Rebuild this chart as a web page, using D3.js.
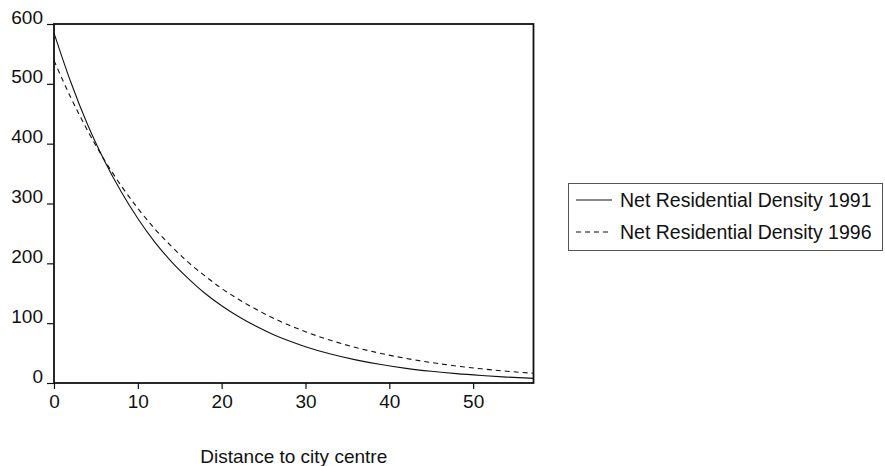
<!DOCTYPE html>
<html>
<head>
<meta charset="utf-8">
<script src="https://cdn.jsdelivr.net/npm/d3@7"></script>
<style>
  html, body { margin: 0; padding: 0; background: #fff; }
  svg { display: block; }
  text { font-family: "Liberation Sans", Arial, Helvetica, sans-serif; fill: #111; }
</style>
</head>
<body>
<svg id="chart" width="885" height="466"></svg>
<script>
// ---- Data ----
const distance = [0, 2, 4, 6, 8, 10, 12, 14, 16, 18, 20, 22, 24, 26, 28, 30, 33, 36, 39, 42, 45, 48, 51, 54, 57.2];
const density1991 = [585, 503, 432, 372, 320, 275, 236, 203, 175, 150, 129, 111, 95.5, 82, 70.6, 60.7, 48.4, 38.6, 30.8, 24.5, 19.6, 15.6, 12.5, 9.9, 7.8];
const density1996 = [539, 477, 422, 373, 330, 292, 258, 228.5, 202, 179, 158, 140, 124, 109.5, 96.9, 85.7, 71.3, 59.3, 49.4, 41.1, 34.2, 28.4, 23.7, 19.7, 16.2];
const seriesNames = ["Net Residential Density 1991", "Net Residential Density 1996"];
const xTicks = [0, 10, 20, 30, 40, 50];
const yTicks = [0, 100, 200, 300, 400, 500, 600];
const xTitle = "Distance to city centre";

// ---- Layout ----
const svg = d3.select("#chart");
const plot = { left: 54, top: 24, right: 533.5, bottom: 383 };

const x = d3.scaleLinear().domain([0, 57.2]).range([plot.left, plot.right]);
const y = d3.scaleLinear().domain([0, 600]).range([plot.bottom, plot.top]);

const fontSize = 19;

// Y axis
const yAxis = svg.append("g")
  .attr("transform", `translate(${plot.left},0)`)
  .call(d3.axisLeft(y).tickValues(yTicks).tickSize(7).tickPadding(4).tickSizeOuter(0));
yAxis.select(".domain").remove();
yAxis.selectAll("line").attr("stroke", "#111").attr("stroke-width", 1.2);
yAxis.selectAll("text").attr("font-size", fontSize).attr("dy", "-0.05em").attr("fill", "#111");

// X axis
const xAxis = svg.append("g")
  .attr("transform", `translate(0,${plot.bottom})`)
  .call(d3.axisBottom(x).tickValues(xTicks).tickSize(6).tickPadding(6).tickSizeOuter(0));
xAxis.select(".domain").remove();
xAxis.selectAll("line").attr("stroke", "#111").attr("stroke-width", 1.2);
xAxis.selectAll("text").attr("font-size", fontSize).attr("fill", "#111");

// Lines
const line1991 = d3.line()
  .x((d, i) => x(distance[i]))
  .y(d => y(d))
  .curve(d3.curveMonotoneX);

svg.append("path")
  .datum(density1991)
  .attr("d", line1991)
  .attr("fill", "none")
  .attr("stroke", "#111")
  .attr("stroke-width", 1.1);

svg.append("path")
  .datum(density1996)
  .attr("d", line1991)
  .attr("fill", "none")
  .attr("stroke", "#111")
  .attr("stroke-width", 1.1)
  .attr("stroke-dasharray", "5,4");

// Frame
svg.append("rect")
  .attr("x", plot.left)
  .attr("y", plot.top)
  .attr("width", plot.right - plot.left)
  .attr("height", plot.bottom - plot.top)
  .attr("fill", "none")
  .attr("stroke", "#111")
  .attr("stroke-width", 1.8);

// X title
svg.append("text")
  .attr("x", (plot.left + plot.right) / 2)
  .attr("y", 463)
  .attr("text-anchor", "middle")
  .attr("font-size", fontSize)
  .text(xTitle);

// Legend
const legend = svg.append("g");
legend.append("rect")
  .attr("x", 568.5).attr("y", 183.5)
  .attr("width", 314).attr("height", 67)
  .attr("fill", "#fff")
  .attr("stroke", "#555")
  .attr("stroke-width", 1);

const dashes = [null, "5,4"];
seriesNames.forEach((name, i) => {
  const cy = 200 + i * 32;
  legend.append("line")
    .attr("x1", 576).attr("x2", 612)
    .attr("y1", cy).attr("y2", cy)
    .attr("stroke", "#111")
    .attr("stroke-width", 1.1)
    .attr("stroke-dasharray", dashes[i]);
  legend.append("text")
    .attr("x", 620)
    .attr("y", cy + 7)
    .attr("font-size", 19.5)
    .text(name);
});
</script>
</body>
</html>
